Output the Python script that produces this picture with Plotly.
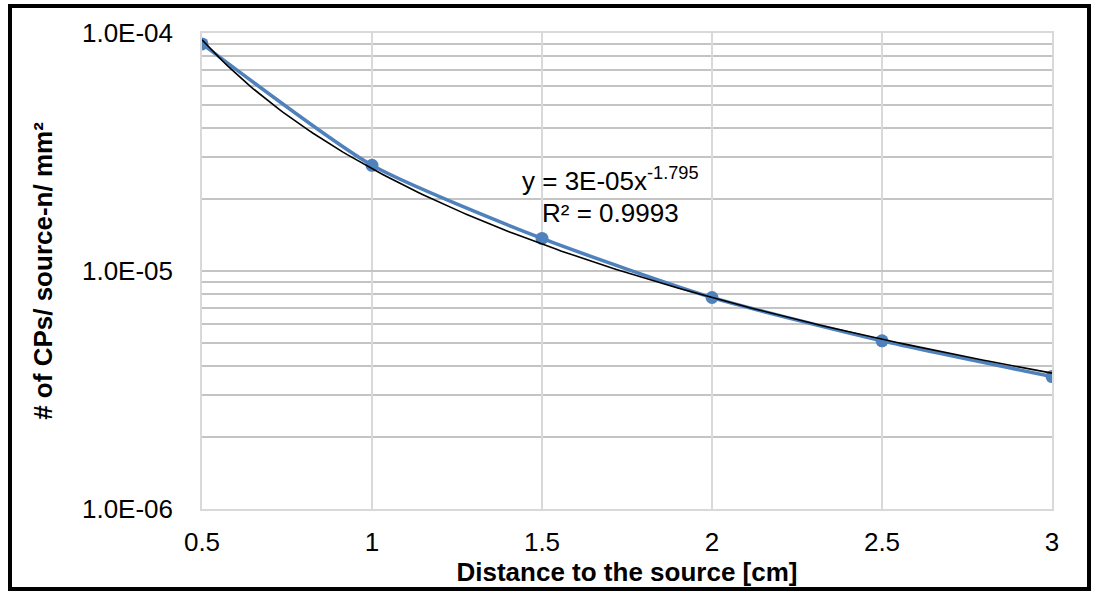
import numpy as np
import plotly.graph_objects as go

# Data
distance_cm = [0.5, 1.0, 1.5, 2.0, 2.5, 3.0]
cps_per_n_mm2 = [9.0e-5, 2.78e-5, 1.37e-5, 7.74e-6, 5.09e-6, 3.60e-6]

y_tick_vals = [1e-6, 1e-5, 1e-4]
y_tick_text = ["1.0E-06", "1.0E-05", "1.0E-04"]
x_tick_vals = [0.5, 1, 1.5, 2, 2.5, 3]
x_tick_text = ["0.5", "1", "1.5", "2", "2.5", "3"]

# Power-law trendline fitted from the data (as in the spreadsheet)
b, ln_a = np.polyfit(np.log(distance_cm), np.log(cps_per_n_mm2), 1)
a = np.exp(ln_a)
x_fit = np.linspace(min(distance_cm), max(distance_cm), 200)
y_fit = a * x_fit ** b

BLUE = "#4f81bd"
FONT = "Liberation Sans, Arial, sans-serif"

W, H = 850.0, 476.0
def px(xp):
    return (xp - 202) / W
def py(yp):
    return (509 - yp) / H

fig = go.Figure()
fig.add_trace(go.Scatter(
    x=distance_cm, y=cps_per_n_mm2, mode="lines+markers",
    line=dict(color=BLUE, width=3.5, shape="spline", smoothing=0.6),
    marker=dict(color=BLUE, size=13),
    showlegend=False, hoverinfo="skip"))
fig.add_trace(go.Scatter(
    x=x_fit, y=y_fit, mode="lines",
    line=dict(color="black", width=1.6),
    showlegend=False, hoverinfo="skip"))

minor_vals = [m * 10.0 ** e for e in (-6, -5) for m in range(2, 10)]

fig.update_layout(
    width=1093, height=592,
    margin=dict(l=202, r=41, t=33, b=83),
    paper_bgcolor="white", plot_bgcolor="white",
    font=dict(family=FONT, size=26, color="black"),
    xaxis=dict(
        range=[0.5, 3], tickvals=x_tick_vals, ticktext=x_tick_text,
        showgrid=True, gridcolor="#d9d9d9", gridwidth=1.5,
        zeroline=False, showline=True, linecolor="#d9d9d9", linewidth=1.5,
        mirror=True, ticks="", ticklabelstandoff=9,
        tickfont=dict(size=26),
        title=dict(text="<b>Distance to the source [cm]</b>",
                   font=dict(size=26), standoff=0),
    ),
    yaxis=dict(
        type="log", range=[-6, -4], tickvals=y_tick_vals, ticktext=y_tick_text,
        showgrid=True, gridcolor="#c4c4c4", gridwidth=1.5,
        zeroline=False, showline=True, linecolor="#d9d9d9", linewidth=1.5,
        mirror=True, ticks="", ticklabelstandoff=22,
        tickfont=dict(size=26),
        minor=dict(tickvals=minor_vals, showgrid=True, gridcolor="#c4c4c4",
                   gridwidth=1.5, ticks=""),
        title=dict(text="<b># of CPs/ source-n/ mm²</b>",
                   font=dict(size=26), standoff=22),
    ),
    annotations=[
        dict(x=px(610), y=py(198), xref="paper", yref="paper", showarrow=False,
             yanchor="bottom", text="y = 3E-05x<sup>-1.795</sup>",
             font=dict(size=26, family=FONT)),
        dict(x=px(610), y=py(213), xref="paper", yref="paper", showarrow=False,
             yanchor="middle", text="R² = 0.9993",
             font=dict(size=26, family=FONT)),
    ],
)

# Outer black frame around the chart
fig.add_shape(type="rect", xref="paper", yref="paper",
              x0=px(10), x1=px(1089), y0=py(589), y1=py(6),
              line=dict(color="black", width=4), fillcolor="rgba(0,0,0,0)",
              layer="above")

fig.write_html("out.html")
